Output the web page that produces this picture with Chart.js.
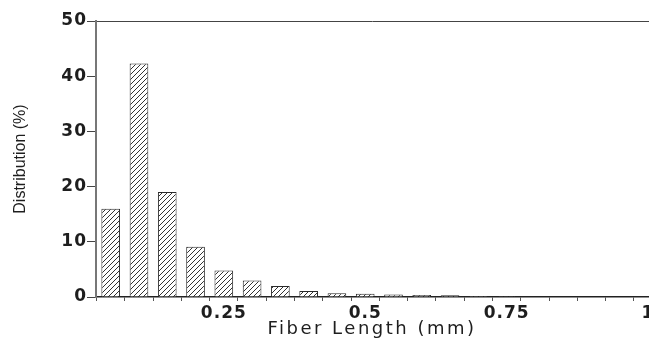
<!DOCTYPE html>
<html><head><meta charset="utf-8">
<script src="https://cdn.jsdelivr.net/npm/chart.js@4"></script>
<style>html,body{margin:0;padding:0;background:#fff;overflow:hidden}</style>
</head><body>
<canvas id="c" width="649" height="340"></canvas>
<script>
// ---- data ----
const binCenters = [0.05,0.10,0.15,0.20,0.25,0.30,0.35,0.40,0.45,0.50,0.55,0.60,0.65,0.70,0.75,0.80,0.85,0.90,0.95];
const distribution = [16.0,42.3,19.0,9.1,4.8,3.0,2.0,1.1,0.7,0.6,0.45,0.35,0.3,0.2,0.15,0.1,0.1,0.05,0.05];
const xTickValues = [0.05,0.10,0.15,0.20,0.25,0.30,0.35,0.40,0.45,0.50,0.55,0.60,0.65,0.70,0.75,0.80,0.85,0.90,0.95,1.00];
const xLabelValues = [0.25,0.5,0.75,1];
const xLabelTexts = ['0.25','0.5','0.75','1'];
const yTickLabels = ['0','10','20','30','40','50'];
const xTitle = 'Fiber Length (mm)';
const yTitle = 'Distribution (%)';

const canvas = document.getElementById('c');
const ctx = canvas.getContext('2d');

function makeHatch(){
  const s = 5;
  const c = document.createElement('canvas');
  c.width = s; c.height = s;
  const g = c.getContext('2d');
  g.fillStyle = '#ffffff';
  g.fillRect(0,0,s,s);
  g.strokeStyle = '#333333';
  g.lineWidth = 1;
  g.beginPath();
  [-s,0,s].forEach(k=>{ g.moveTo(k,s); g.lineTo(k+s,0); });
  g.stroke();
  return ctx.createPattern(c,'repeat');
}

const spacingPlugin = {
  id:'spacing',
  afterLayout(chart){
    const wrap = (s,name,sp)=>{
      const orig = s[name];
      s[name] = function(...a){
        const c = this.ctx;
        const prev = c.letterSpacing;
        c.letterSpacing = sp;
        try { return orig.apply(this,a); } finally { c.letterSpacing = prev; }
      };
    };
    const x = chart.scales.x, y = chart.scales.y;
    if (!x.__patched){ x.__patched = true; wrap(x,'drawLabels','1px'); wrap(x,'drawTitle','2.5px'); }
    if (!y.__patched){ y.__patched = true; wrap(y,'drawLabels','1px'); }
  }
};

const tickFont = {family:'DejaVu Sans', size:17, weight:'bold'};
const textColor = '#1e1e1e';

new Chart(ctx,{
  type:'bar',
  data:{
    datasets:[{
      data: binCenters.map((x,i)=>({x:x, y:distribution[i]})),
      backgroundColor: makeHatch(),
      borderColor:'#2a2a2a',
      borderWidth:1,
      barPercentage:0.66,
      categoryPercentage:1.0,
      xAxisID:'x', yAxisID:'y'
    }]
  },
  options:{
    responsive:false,
    animation:false,
    devicePixelRatio:1,
    layout:{padding:{top:21,right:1,left:0,bottom:0}},
    plugins:{legend:{display:false},tooltip:{enabled:false}},
    scales:{
      x:{
        type:'linear', position:'bottom', min:0.024, max:1, offset:false,
        afterBuildTicks(s){ s.ticks = xTickValues.map(v=>({value:v})); },
        afterFit(s){ s.height = 43; s.paddingLeft = 0; s.paddingRight = 0; },
        ticks:{
          autoSkip:false, maxRotation:0, minRotation:0, padding:2,
          font:tickFont, color:textColor,
          callback(v){ const i = xLabelValues.findIndex(l=>Math.abs(l-v)<1e-6); return i>=0 ? xLabelTexts[i] : ''; }
        },
        grid:{display:true, drawOnChartArea:false, drawTicks:true, tickLength:4, color:'#555', lineWidth:1},
        border:{display:true, color:'#222', width:1.5},
        title:{display:true, text:xTitle, color:textColor, font:{family:'DejaVu Sans', size:18}, padding:{top:0,bottom:0}}
      },
      x2:{
        type:'linear', position:'top', min:0.024, max:1,
        afterFit(s){ s.height = 0; s.paddingLeft = 0; s.paddingRight = 0; },
        ticks:{display:false},
        grid:{display:false},
        border:{display:true, color:'#444', width:1}
      },
      y:{
        type:'linear', position:'left', min:0, max:50,
        afterFit(s){ s.width = 96; },
        ticks:{
          stepSize:10, padding:0, font:tickFont, color:textColor,
          callback(v,i){ return yTickLabels[i]; }
        },
        grid:{display:true, drawOnChartArea:false, drawTicks:true, tickLength:9, color:'#444', lineWidth:1},
        border:{display:true, color:'#777', width:2},
        title:{display:true, text:yTitle, color:textColor, font:{family:'Liberation Sans', size:16}, padding:{top:11,bottom:0}}
      }
    }
  },
  plugins:[spacingPlugin]
});
</script>
</body></html>
